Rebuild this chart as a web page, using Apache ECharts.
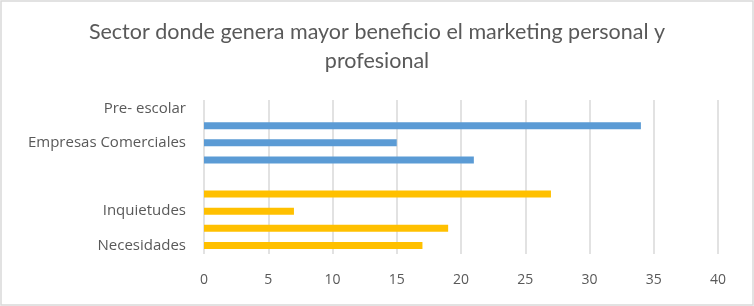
<!DOCTYPE html>
<html>
<head>
<meta charset="utf-8">
<script src="https://cdn.jsdelivr.net/npm/echarts@6/dist/echarts.min.js"></script>
<style>
  html, body { margin: 0; padding: 0; background: #fff; }
  #chart { width: 754px; height: 306px; }
</style>
</head>
<body>
<div id="chart"></div>
<script>
// etiquetas del eje (Excel salta una de cada dos)
const categories = ["Pre- escolar", "", "Empresas Comerciales", "", "", "", "Inquietudes", "", "Necesidades"];
const blueValues = [null, 34, 15, 21, null, null, null, null, null];
const yellowValues = [null, null, null, null, null, 27, 7, 19, 17];
const xTicks = { min: 0, max: 40, interval: 5 };

const textColor = "#595959";
const gridColor = "#d9d9d9";

const chart = echarts.init(document.getElementById('chart'));

const option = {
  backgroundColor: "#fff",
  animation: false,
  title: {
    text: "Sector donde genera mayor beneficio el marketing personal y\nprofesional",
    left: 'center',
    top: 13,
    textStyle: {
      fontFamily: 'Lato',
      fontWeight: 'normal',
      fontSize: 21.5,
      lineHeight: 29,
      color: textColor
    }
  },
  graphic: [{
    type: 'rect',
    shape: { x: 1, y: 1, width: 752, height: 304 },
    style: { fill: 'none', stroke: gridColor, lineWidth: 1.5 },
    silent: true
  }],
  grid: {
    left: 204,
    right: 36,
    top: 100,
    bottom: 52
  },
  xAxis: {
    type: 'value',
    min: xTicks.min,
    max: xTicks.max,
    interval: xTicks.interval,
    axisLine: { show: false },
    axisTick: { show: false },
    axisLabel: {
      color: textColor,
      fontFamily: 'Open Sans',
      fontSize: 14,
      margin: 19
    },
    splitLine: {
      show: true,
      lineStyle: { color: gridColor, width: 1.5 }
    }
  },
  yAxis: {
    type: 'category',
    inverse: true,
    data: categories,
    axisLine: { show: false },
    axisTick: { show: false },
    axisLabel: {
      interval: 0,
      color: textColor,
      fontFamily: 'Open Sans',
      fontSize: 15,
      margin: 18
    }
  },
  series: [
    {
      type: 'bar',
      stack: 'total',
      data: blueValues,
      barWidth: 7,
      itemStyle: { color: "#5b9bd5" }
    },
    {
      type: 'bar',
      stack: 'total',
      data: yellowValues,
      barWidth: 7,
      itemStyle: { color: "#ffc000" }
    }
  ]
};

chart.setOption(option);
</script>
</body>
</html>
